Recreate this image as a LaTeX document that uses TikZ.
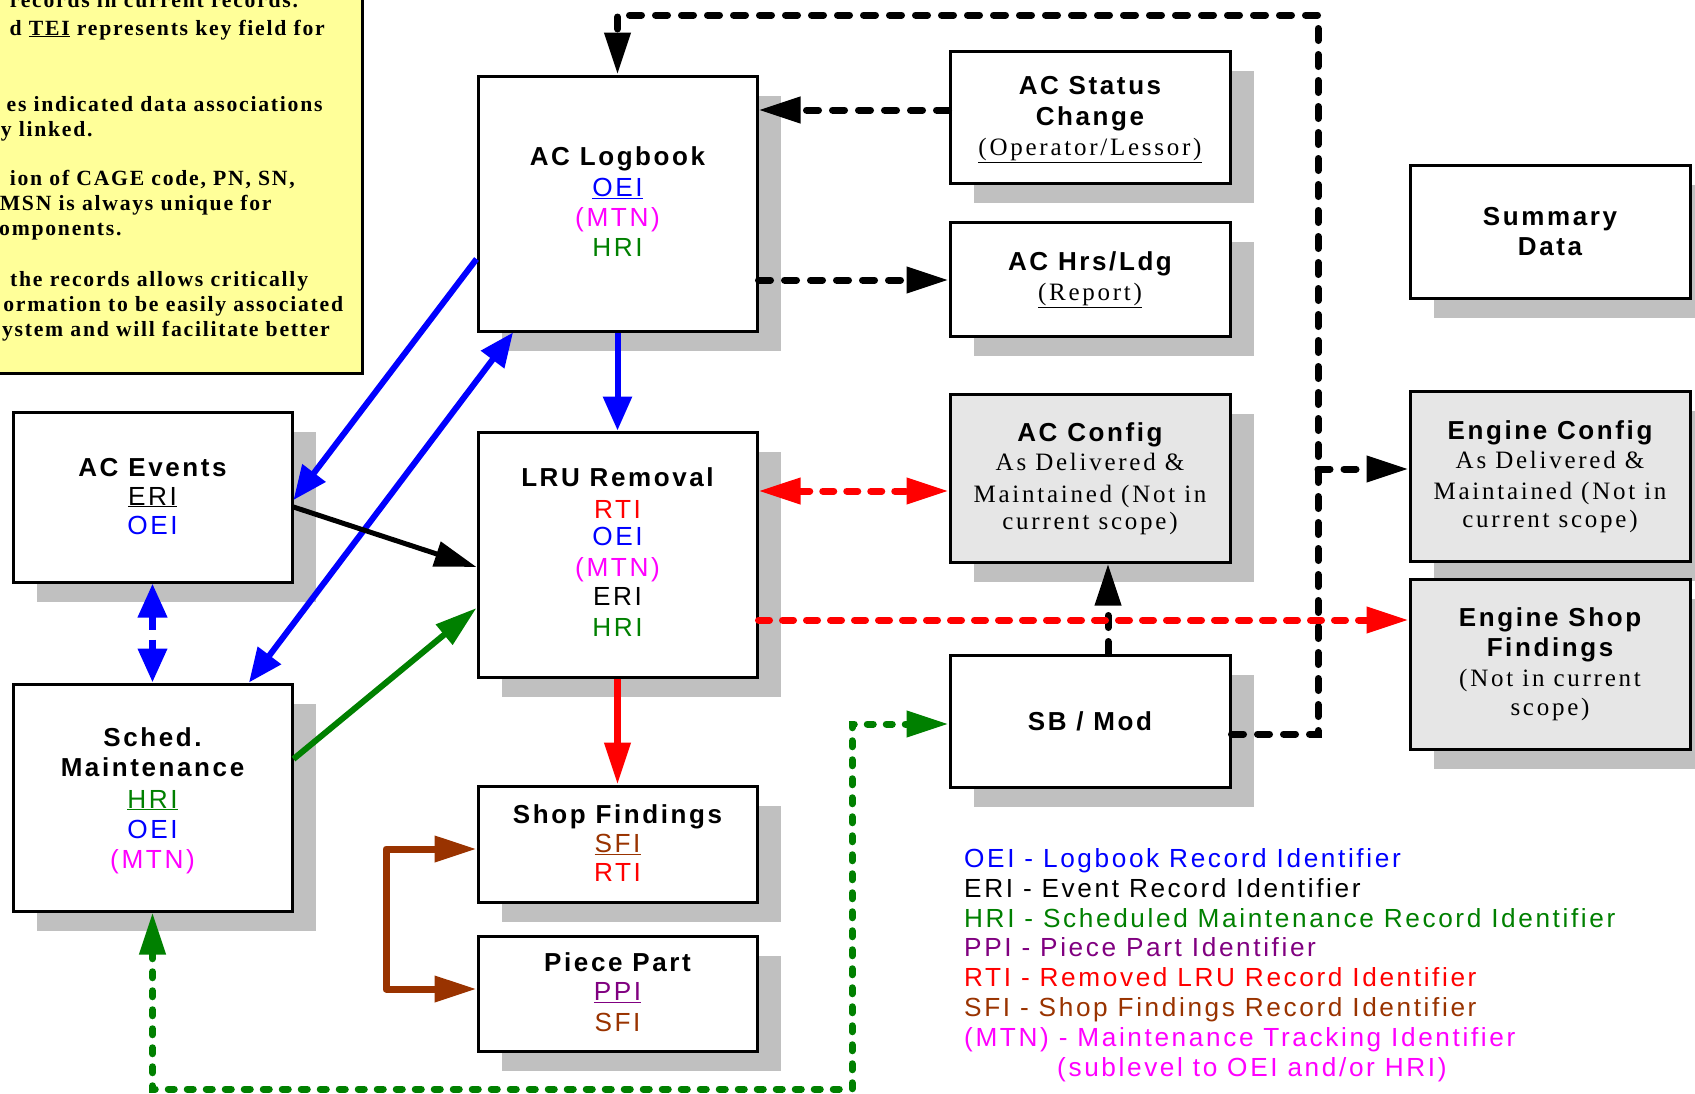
\documentclass[tikz,border=0pt]{standalone}
\usepackage{fontspec}
\setmainfont{Liberation Serif}
\newfontfamily\sfT[LetterSpace=10]{Liberation Sans}
\newfontfamily\sfL[LetterSpace=10]{Liberation Sans}
\newfontfamily\srL[LetterSpace=11]{Liberation Serif}
\newfontfamily\srN[LetterSpace=8]{Liberation Serif}
\usetikzlibrary{arrows.meta,shadows}
\definecolor{shgray}{RGB}{192,192,192}
\definecolor{boxgray}{RGB}{230,230,230}
\definecolor{notey}{RGB}{255,255,153}
\definecolor{dgreen}{RGB}{0,128,0}
\definecolor{brn}{RGB}{153,51,0}
\definecolor{purp}{RGB}{128,0,128}
\definecolor{mag}{RGB}{255,0,255}
\tikzset{
  box/.style={draw, line width=3pt, fill=white, inner sep=0pt,
    drop shadow={shadow xshift=24pt, shadow yshift=-20pt, fill=shgray, opacity=1}},
  gbox/.style={box, fill=boxgray},
  ttl/.style={font=\sfT\bfseries\fontsize{26}{30}\selectfont, anchor=base, inner sep=0pt},
  fld/.style={font=\sfL\fontsize{26.2}{30}\selectfont, anchor=base, inner sep=0pt},
  ser/.style={font=\srL\fontsize{25}{30}\selectfont, anchor=base, inner sep=0pt},
  nt/.style={font=\srN\bfseries\fontsize{21.7}{25}\selectfont, anchor=base east, inner sep=0pt},
  lg/.style={font=\sfL\fontsize{26.2}{30}\selectfont, anchor=base west, inner sep=0pt},
  bigtip/.style={>={Triangle[length=42pt,width=25pt]}},
  bluetip/.style={>={Triangle[length=34pt,width=28pt]}},
  kdash/.style={bigtip, draw=black, line width=7pt, line cap=round, dash pattern=on 12pt off 14pt},
  rdash/.style={bigtip, draw=red, line width=7pt, line cap=round, dash pattern=on 11pt off 13pt},
  gdash/.style={bigtip, draw=dgreen, line width=7pt, line cap=round, dash pattern=on 6pt off 13pt},
  bdash/.style={bluetip, draw=blue, line width=7pt, dash pattern=on 14pt off 10pt},
  bsol/.style={bluetip, draw=blue, line width=6pt},
  ksol/.style={bigtip, draw=black, line width=5pt},
  gsol/.style={bigtip, draw=dgreen, line width=6pt},
  rsol/.style={bigtip, draw=red, line width=7pt},
  brsol/.style={bigtip, draw=brn, line width=7pt, line join=round},
}
\begin{document}
\begin{tikzpicture}[x=1pt,y=-1pt]
\useasboundingbox (0,0) rectangle (1695,1093);
\fill[white] (0,0) rectangle (1695,1093);
\clip (0,0) rectangle (1695,1093);

% yellow note
\node[draw, line width=3pt, fill=notey, minimum width=402pt, minimum height=413pt, inner sep=0pt] (note) at (161,166.5) {};
\node[nt] (n1) at (298.3,7) {records in current records.};
\node[nt] (n2) at (325,35) {d \underline{TEI} represents key field for};
\node[nt] (n3) at (322.7,111) {es indicated data associations};
\node[nt] (n4) at (92.7,136) {y linked.};
\node[nt] (n5) at (295,185) {ion of CAGE code, PN, SN,};
\node[nt] (n6) at (271.7,210) {MSN is always unique for};
\node[nt] (n7) at (121.7,235) {omponents.};
\node[nt] (n8) at (308.3,286.7) {the records allows critically};
\node[nt] (n9) at (343.3,311.7) {ormation to be easily associated};
\node[nt] (n10) at (330,336.7) {ystem and will facilitate better};

% boxes
\node[box, minimum width=279pt, minimum height=255pt] (log) at (617.5,203.5) {};
\node[box, minimum width=280pt, minimum height=132pt] (st) at (1090,117) {};
\node[box, minimum width=280pt, minimum height=114pt] (hrs) at (1090,279) {};
\node[box, minimum width=280pt, minimum height=133pt] (sum) at (1550,231.5) {};
\node[box, minimum width=279pt, minimum height=170pt] (ev) at (152.5,497) {};
\node[box, minimum width=279pt, minimum height=245pt] (lru) at (617.5,554.5) {};
\node[gbox, minimum width=280pt, minimum height=168pt] (acc) at (1090,478) {};
\node[gbox, minimum width=280pt, minimum height=170pt] (ec) at (1550,476) {};
\node[gbox, minimum width=280pt, minimum height=170pt] (esf) at (1550,664) {};
\node[box, minimum width=280pt, minimum height=132pt] (sb) at (1090,721) {};
\node[box, minimum width=279pt, minimum height=227pt] (sm) at (152.5,797.5) {};
\node[box, minimum width=279pt, minimum height=116pt] (sf) at (617.5,844) {};
\node[box, minimum width=279pt, minimum height=115pt] (pp) at (617.5,993.5) {};

% box texts
\node[ttl] (log1) at (617.5,165) {AC Logbook};
\node[fld, text=blue] (log2) at (617.5,196.5) {\underline{OEI}};
\node[fld, text=mag] (log3) at (617.5,226.5) {(MTN)};
\node[fld, text=dgreen] (log4) at (617.5,256) {HRI};

\node[ttl] (st1) at (1090,94) {AC Status};
\node[ttl] (st2) at (1090,125.5) {Change};
\node[ser] (st3) at (1090,155.5) {\underline{(Operator/Lessor)}};

\node[ttl] (hrs1) at (1090,270.5) {AC Hrs/Ldg};
\node[ser] (hrs2) at (1090,300.5) {\underline{(Report)}};

\node[ttl] (sum1) at (1550,225) {Summary};
\node[ttl] (sum2) at (1550,255) {Data};

\node[ttl] (ev1) at (152.5,476) {AC Events};
\node[fld] (ev2) at (152.5,505) {\underline{ERI}};
\node[fld, text=blue] (ev3) at (152.5,534) {OEI};

\node[ttl] (lru1) at (617.5,486.5) {LRU Removal};
\node[fld, text=red] (lru2) at (617.5,518) {RTI};
\node[fld, text=blue] (lru3) at (617.5,545) {OEI};
\node[fld, text=mag] (lru4) at (617.5,576.5) {(MTN)};
\node[fld] (lru5) at (617.5,605.5) {ERI};
\node[fld, text=dgreen] (lru6) at (617.5,636) {HRI};

\node[ttl] (acc1) at (1090,441.5) {AC Config};
\node[ser] (acc2) at (1090,470.5) {As Delivered \&};
\node[ser] (acc3) at (1090,502) {Maintained (Not in};
\node[ser] (acc4) at (1090,529) {current scope)};

\node[ttl] (ec1) at (1550,439) {Engine Config};
\node[ser] (ec2) at (1550,468) {As Delivered \&};
\node[ser] (ec3) at (1550,499) {Maintained (Not in};
\node[ser] (ec4) at (1550,527) {current scope)};

\node[ttl] (esf1) at (1550,626.5) {Engine Shop};
\node[ttl] (esf2) at (1550,656.5) {Findings};
\node[ser] (esf3) at (1550,686.5) {(Not in current};
\node[ser] (esf4) at (1550,715) {scope)};

\node[ttl] (sb1) at (1090,730) {SB / Mod};

\node[ttl] (sm1) at (152.5,746.5) {Sched.};
\node[ttl] (sm2) at (152.5,776.5) {Maintenance};
\node[fld, text=dgreen] (sm3) at (152.5,808) {\underline{HRI}};
\node[fld, text=blue] (sm4) at (152.5,838) {OEI};
\node[fld, text=mag] (sm5) at (152.5,868) {(MTN)};

\node[ttl] (sf1) at (617.5,823) {Shop Findings};
\node[fld, text=brn] (sf2) at (617.5,852.5) {\underline{SFI}};
\node[fld, text=red] (sf3) at (617.5,881.5) {RTI};

\node[ttl] (pp1) at (617.5,971) {Piece Part};
\node[fld, text=purp] (pp2) at (617.5,1000.5) {\underline{PPI}};
\node[fld, text=brn] (pp3) at (617.5,1031.5) {SFI};

% legend
\node[lg, text=blue] (lg1) at (964,867) {OEI - Logbook Record Identifier};
\node[lg] (lg2) at (964,897) {ERI - Event Record Identifier};
\node[lg, text=dgreen] (lg3) at (964,927) {HRI - Scheduled Maintenance Record Identifier};
\node[lg, text=purp] (lg4) at (964,956) {PPI - Piece Part Identifier};
\node[lg, text=red] (lg5) at (964,986) {RTI - Removed LRU Record Identifier};
\node[lg, text=brn] (lg6) at (964,1016) {SFI - Shop Findings Record Identifier};
\node[lg, text=mag] (lg7) at (964,1046) {(MTN) - Maintenance Tracking Identifier};
\node[lg, text=mag] (lg8) at (1057,1076) {(sublevel to OEI and/or HRI)};

% connectors
\coordinate (ktop) at (1318,15);
\coordinate (kbr) at (1318,469);
\coordinate (gb) at (852,1089);
\coordinate (brc) at (386,989);

\draw[kdash, ->] (sb.east |- 0,734) -| (ktop) -| (log.north);
\draw[kdash, ->] (kbr) -- (ec.west |- kbr);
\draw[kdash, ->] (st.west |- 0,110) -- (log.east |- 0,110);
\draw[kdash, ->] (log.east |- 0,280) -- (hrs.west |- 0,280);
\draw[kdash, ->] (sb.north -| 1108,0) -- (acc.south -| 1108,0);

\draw[rdash, <->] (lru.east |- 0,491) -- (acc.west |- 0,491);
\draw[rdash, ->] (lru.east |- 0,620) -- (esf.west |- 0,620);
\draw[rsol, ->] (lru.south) -- (sf.north);

\draw[bsol, ->] (log.south) -- (lru.north);
\draw[bsol, ->] (log.west |- 0,259) -- (ev.east |- 0,500);
\draw[bsol, <->] (sm.north -| 249,0) -- (log.south -| 513,0);
\draw[bdash, <->] (ev.south) -- (sm.north);

\draw[ksol, ->] (ev.east |- 0,507) -- (lru.west |- 0,567);
\draw[gsol, ->] (sm.east |- 0,759) -- (lru.west |- 0,608);

\draw[gdash, <->] (sm.south) |- (gb) |- (sb.west |- 0,724);
\draw[brsol, <->] (sf.west |- 0,849) -| (brc) -- (pp.west |- brc);
\end{tikzpicture}
\end{document}
